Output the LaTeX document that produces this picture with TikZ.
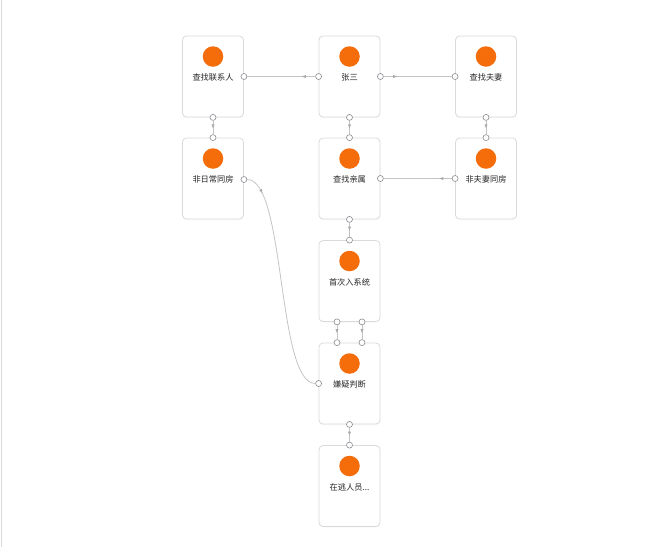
\documentclass[tikz,border=0pt]{standalone}
\usepackage{fontspec}
\newfontfamily\cjk{Noto Sans CJK SC}
\usetikzlibrary{arrows.meta,decorations.markings,shadows}
\definecolor{orng}{RGB}{245,108,10}
\definecolor{cardline}{RGB}{218,218,222}
\definecolor{edgec}{RGB}{196,196,200}
\definecolor{arrc}{RGB}{170,170,175}
\definecolor{portc}{RGB}{140,140,145}
\definecolor{txt}{RGB}{38,38,38}
\tikzset{
  cardbox/.style={draw=cardline, fill=white, line width=0.8pt, rounded corners=4pt,
    minimum width=61pt, minimum height=81pt, inner sep=0pt,
    drop shadow={opacity=0.06, shadow xshift=0pt, shadow yshift=-1pt}},
  dotc/.style={circle, fill=orng, minimum size=20.5pt, inner sep=0pt},
  lbl/.style={font=\cjk\fontsize{8.2}{9}\selectfont, text=txt, inner sep=0pt},
  port/.style={circle, draw=portc, fill=white, line width=0.6pt, minimum size=6pt, inner sep=0pt},
  conn/.style={draw=edgec, line width=0.8pt},
  arr/.style={postaction={decorate}, decoration={markings,
    mark=at position #1 with {\arrow[arrc]{Latex[length=4.5pt,width=3.2pt]}}}}
}
\newcommand{\mkcard}[4]{%
  \node[cardbox] (#1) at (#2,#3) {};
  \node[dotc] (#1-dot) at (#2,#3-20) {};
  \node[lbl] (#1-txt) at (#2,#3+1) {#4};
}
\begin{document}
\begin{tikzpicture}[x=1pt,y=-1pt]
\useasboundingbox (0,0) rectangle (660,547);
\draw[draw=cardline, line width=1.2pt] (1.5,0) -- (1.5,547);
% cards
\mkcard{lx}{213}{76.5}{查找联系人}
\mkcard{zs}{349.5}{76.5}{张三}
\mkcard{fq}{486}{76.5}{查找夫妻}
\mkcard{fr}{213}{178.5}{非日常同房}
\mkcard{qs}{349.5}{178.5}{查找亲属}
\mkcard{ff}{486}{178.5}{非夫妻同房}
\mkcard{sc}{349.5}{281}{首次入系统}
\mkcard{xy}{349.5}{383.5}{嫌疑判断}
\mkcard{zt}{349.5}{486}{在逃人员...}
% ports
\node[port] (lx-r) at (lx.east) {};
\node[port] (lx-b) at (lx.south) {};
\node[port] (zs-l) at (zs.west) {};
\node[port] (zs-r) at (zs.east) {};
\node[port] (zs-b) at (zs.south) {};
\node[port] (fq-l) at (fq.west) {};
\node[port] (fq-b) at (fq.south) {};
\node[port] (fr-t) at (fr.north) {};
\node[port] (fr-r) at ([yshift=-1pt]fr.east) {};
\node[port] (qs-t) at (qs.north) {};
\node[port] (qs-r) at (qs.east) {};
\node[port] (qs-b) at (qs.south) {};
\node[port] (ff-t) at (ff.north) {};
\node[port] (ff-l) at (ff.west) {};
\node[port] (sc-t) at (sc.north) {};
\node[port] (sc-b1) at ([xshift=-12.5pt]sc.south) {};
\node[port] (sc-b2) at ([xshift=12.5pt]sc.south) {};
\node[port] (xy-t1) at ([xshift=-12.5pt]xy.north) {};
\node[port] (xy-t2) at ([xshift=12.5pt]xy.north) {};
\node[port] (xy-l) at (xy.west) {};
\node[port] (xy-b) at (xy.south) {};
\node[port] (zt-t) at (zt.north) {};
% connectors
\path[conn, arr=14pt] (zs-l) -- (lx-r);
\path[conn, arr=14pt] (zs-r) -- (fq-l);
\path[conn, arr=13pt] (ff-l) -- (qs-r);
\path[conn, arr=0.6] (lx-b) -- (fr-t);
\path[conn, arr=0.6] (zs-b) -- (qs-t);
\path[conn, arr=0.6] (fq-b) -- (ff-t);
\path[conn, arr=0.6] (qs-b) -- (sc-t);
\path[conn, arr=0.6] (sc-b1) -- (xy-t1);
\path[conn, arr=0.6] (sc-b2) -- (xy-t2);
\path[conn, arr=0.6] (xy-b) -- (zt-t);
\path[conn, arr=22pt] (fr-r) .. controls +(42,0) and +(-42,0) .. (xy-l);
\end{tikzpicture}
\end{document}
